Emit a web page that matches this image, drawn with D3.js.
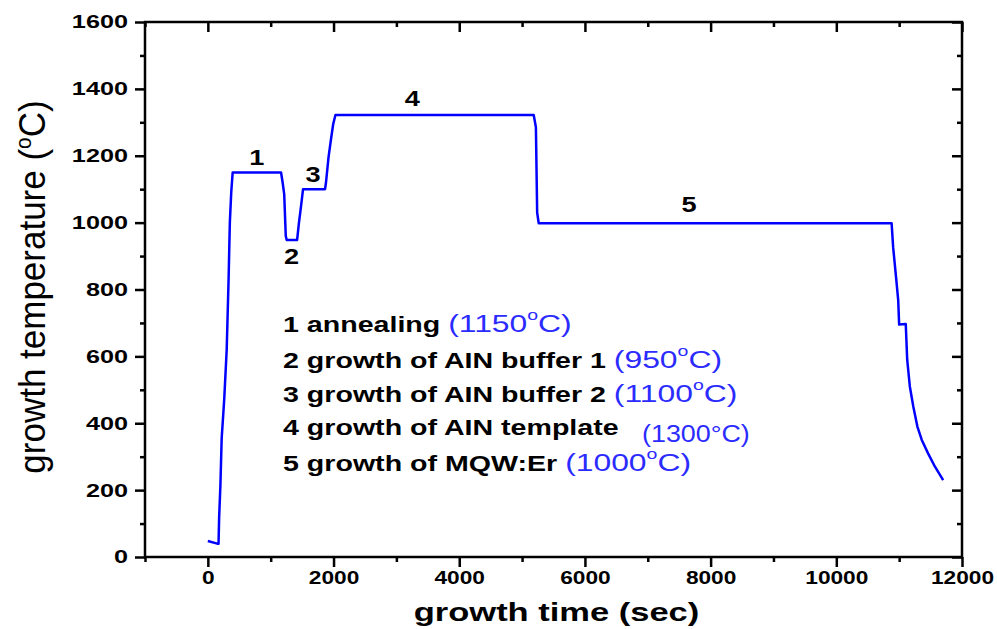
<!DOCTYPE html>
<html>
<head>
<meta charset="utf-8">
<script src="https://cdn.jsdelivr.net/npm/d3@7"></script>
<style>
  body { margin: 0; background: #fff; }
  svg text { font-family: "Liberation Sans", Arial, sans-serif; }
</style>
</head>
<body>
<div id="chart"></div>
<script>
// temperature profile
var timeSec = [0, 150, 170, 180, 200, 220, 260, 300, 330, 350, 372, 395,
    1165, 1190, 1215, 1240, 1255, 1420, 1450, 1480, 1515,
    1865, 1880, 1920, 1960, 1995, 2030,
    5185, 5220, 5240, 5265,
    10880, 10905, 10950, 10985, 11000, 11105, 11128, 11170, 11225, 11290, 11360, 11460, 11570, 11700];
var tempC = [48, 40, 40, 120, 215, 355, 470, 620, 830, 1000, 1090, 1150,
    1150, 1120, 1085, 960, 948, 948, 1000, 1045, 1100,
    1100, 1120, 1195, 1250, 1295, 1322,
    1322, 1285, 1030, 998,
    998, 925, 838, 768, 695, 697, 590, 510, 450, 390, 350, 310, 270, 230];

var xTicks = [0, 2000, 4000, 6000, 8000, 10000, 12000];
var xMinorTicks = [-1000, 1000, 3000, 5000, 7000, 9000, 11000];
var yTicks = [0, 200, 400, 600, 800, 1000, 1200, 1400, 1600];
var yMinorTicks = [100, 300, 500, 700, 900, 1100, 1300, 1500];

// step numbers on the curve (data units)
var stepNames = ["1", "2", "3", "4", "5"];
var stepTime = [780, 1330, 1675, 3255, 7655];
var stepTemp = [1172, 876, 1122, 1349, 1032];

var legendSteps = ["1 annealing", "2 growth of AIN buffer 1", "3 growth of AIN buffer 2",
    "4 growth of AIN template", "5 growth of MQW:Er"];
var legendTemps = ["1150", "950", "1100", "1300", "1000"];

var width = 997, height = 629;
var margin = {top: 22, right: 35, bottom: 72, left: 145};
var S = 1.3; // the source figure is stretched sideways

var svg = d3.select("#chart").append("svg")
    .attr("width", width)
    .attr("height", height);

var x = d3.scaleLinear().domain([-1000, 12000]).range([margin.left, width - margin.right]);
var y = d3.scaleLinear().domain([0, 1600]).range([height - margin.bottom, margin.top]);

function styleAxis(g) {
    g.select(".domain").remove();
    g.selectAll(".tick line").attr("stroke", "#000").attr("stroke-width", 2.5);
}

// bottom axis
svg.append("g")
    .attr("transform", `translate(0, ${y(0)})`)
    .call(d3.axisBottom(x).tickValues(xMinorTicks).tickSize(5).tickFormat(""))
    .call(styleAxis);
var xAxisG = svg.append("g")
    .attr("transform", `translate(0, ${y(0)})`)
    .call(d3.axisBottom(x).tickValues(xTicks).tickSize(10).tickPadding(4).tickFormat(d3.format("d")))
    .call(styleAxis);
xAxisG.selectAll("text")
    .attr("fill", "#000")
    .style("font-size", "18px")
    .style("font-weight", "bold")
    .attr("transform", `scale(${S * 0.97},1)`);

// left axis
svg.append("g")
    .attr("transform", `translate(${x(-1000)}, 0)`)
    .call(d3.axisLeft(y).tickValues(yMinorTicks).tickSize(5).tickFormat(""))
    .call(styleAxis);
var yAxisG = svg.append("g")
    .attr("transform", `translate(${x(-1000)}, 0)`)
    .call(d3.axisLeft(y).tickValues(yTicks).tickSize(10).tickFormat(d3.format("d")))
    .call(styleAxis);
yAxisG.selectAll("text")
    .attr("fill", "#000")
    .attr("x", -17 / (S * 1.05))
    .style("font-size", "18.5px")
    .style("font-weight", "bold")
    .attr("transform", `scale(${S * 1.05},1)`);

// top and right: ticks pointing inside
svg.append("g")
    .attr("transform", `translate(0, ${y(1600)})`)
    .call(d3.axisBottom(x).tickValues(xTicks).tickSize(10).tickFormat(""))
    .call(styleAxis);
svg.append("g")
    .attr("transform", `translate(0, ${y(1600)})`)
    .call(d3.axisBottom(x).tickValues(xMinorTicks).tickSize(5).tickFormat(""))
    .call(styleAxis);
svg.append("g")
    .attr("transform", `translate(${x(12000)}, 0)`)
    .call(d3.axisLeft(y).tickValues(yTicks).tickSize(10).tickFormat(""))
    .call(styleAxis);
svg.append("g")
    .attr("transform", `translate(${x(12000)}, 0)`)
    .call(d3.axisLeft(y).tickValues(yMinorTicks).tickSize(5).tickFormat(""))
    .call(styleAxis);

// frame
svg.append("rect")
    .attr("x", x(-1000))
    .attr("y", y(1600))
    .attr("width", x(12000) - x(-1000))
    .attr("height", y(0) - y(1600))
    .attr("fill", "none")
    .attr("stroke", "#000")
    .attr("stroke-width", 2.5);

// temperature curve
var line = d3.line()
    .x((d, i) => x(timeSec[i]))
    .y(d => y(d));

svg.append("path")
    .datum(tempC)
    .attr("d", line)
    .attr("fill", "none")
    .attr("stroke", "#0000ff")
    .attr("stroke-width", 2.5)
    .attr("stroke-linejoin", "round");

// step numbers
svg.selectAll(".stepLabel")
    .data(stepNames).enter()
    .append("text")
    .attr("class", "stepLabel")
    .attr("transform", (d, i) => `translate(${x(stepTime[i])}, ${y(stepTemp[i])}) scale(${S * 0.95},1)`)
    .attr("text-anchor", "middle")
    .style("font-size", "22px")
    .style("font-weight", "bold")
    .text(d => d);

// legend text
var legendBase = [332, 368, 402, 435, 471];
var blue = "#2b2bff";
var legend = svg.selectAll(".legendRow")
    .data(legendSteps).enter()
    .append("text")
    .attr("class", "legendRow")
    .attr("transform", (d, i) => `translate(283, ${legendBase[i]}) scale(${S},1)`)
    .style("font-size", "22px");

legend.append("tspan")
    .style("font-weight", "bold")
    .attr("fill", "#000")
    .text(d => d + " ");

legend.each(function (d, i) {
    if (i == 3) return;
    var t = d3.select(this);
    t.append("tspan").attr("fill", blue).style("font-size", "24.5px").text("(" + legendTemps[i]);
    t.append("tspan").attr("fill", blue).attr("dy", -12).style("font-size", "15px").text("o");
    t.append("tspan").attr("fill", blue).attr("dy", 12).style("font-size", "24.5px").text("C)");
});

// the template temperature was typed in separately in the original
svg.append("text")
    .attr("transform", "translate(642, 442) scale(1.12,1)")
    .attr("fill", blue)
    .style("font-size", "24px")
    .text("(" + legendTemps[3] + "\u00B0C)");

// axis titles
svg.append("text")
    .attr("transform", `translate(${(x(-1000) + x(12000)) / 2 + 3}, 621) scale(1.38,1)`)
    .attr("text-anchor", "middle")
    .style("font-size", "25px")
    .style("font-weight", "bold")
    .text("growth time (sec)");

var yTitle = svg.append("text")
    .attr("transform", "translate(45, 287) scale(1.05,1) rotate(-90)")
    .attr("text-anchor", "middle")
    .style("font-size", "35px");
yTitle.append("tspan").text("growth temperature (");
yTitle.append("tspan").attr("dy", -13).style("font-size", "21px").text("o");
yTitle.append("tspan").attr("dy", 13).text("C)");
</script>
</body>
</html>
